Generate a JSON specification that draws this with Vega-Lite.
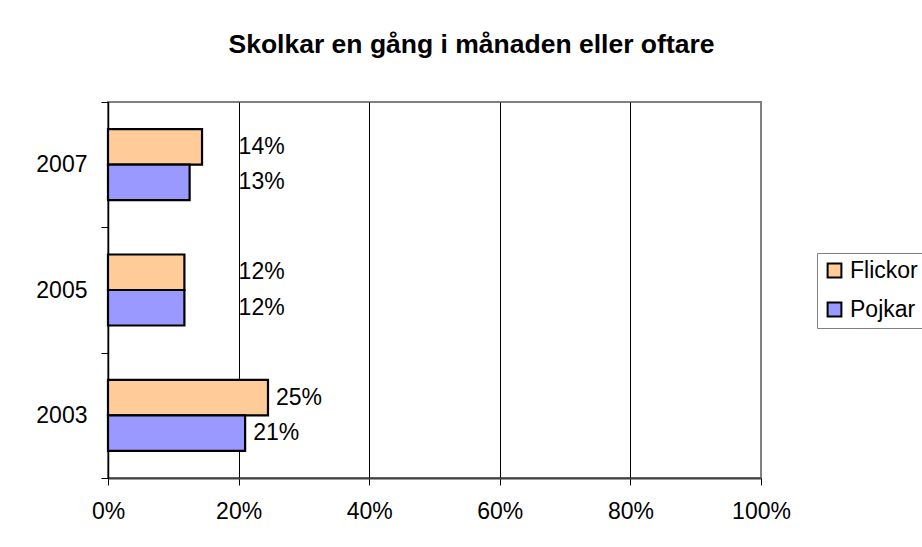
{
  "$schema": "https://vega.github.io/schema/vega-lite/v6.json",
  "width": 653,
  "height": 376,
  "autosize": {"type": "none"},
  "padding": {"left": 108, "top": 102, "right": 161, "bottom": 69},
  "background": "white",
  "title": {
    "text": "Skolkar en gång i månaden eller oftare",
    "font": "Liberation Sans",
    "fontSize": 26.5,
    "fontWeight": "bold",
    "color": "black",
    "anchor": "middle",
    "frame": "group",
    "dx": 37,
    "offset": 12,
    "baseline": "alphabetic"
  },
  "data": {
    "values": [
      {"year": "2007", "gender": "Flickor", "value": 0.144},
      {"year": "2007", "gender": "Pojkar", "value": 0.125},
      {"year": "2005", "gender": "Flickor", "value": 0.117},
      {"year": "2005", "gender": "Pojkar", "value": 0.117},
      {"year": "2003", "gender": "Flickor", "value": 0.245},
      {"year": "2003", "gender": "Pojkar", "value": 0.21}
    ]
  },
  "encoding": {
    "y": {
      "field": "year",
      "type": "nominal",
      "sort": ["2007", "2005", "2003"],
      "scale": {"paddingInner": 0, "paddingOuter": 0},
      "axis": {
        "title": null,
        "tickBand": "extent",
        "tickSize": 7,
        "tickColor": "black",
        "tickWidth": 1,
        "domainColor": "black",
        "domainWidth": 1.5,
        "labelFont": "Liberation Sans",
        "labelFontSize": 23,
        "labelColor": "black",
        "labelPadding": 14,
        "grid": false
      }
    },
    "yOffset": {
      "field": "gender",
      "type": "nominal",
      "sort": ["Flickor", "Pojkar"],
      "scale": {"paddingInner": 0, "paddingOuter": 0.765}
    },
    "x": {
      "field": "value",
      "type": "quantitative",
      "scale": {"domain": [0, 1], "nice": false, "zero": true},
      "axis": {
        "title": null,
        "values": [0, 0.2, 0.4, 0.6, 0.8, 1],
        "format": ".0%",
        "labelFont": "Liberation Sans",
        "labelFontSize": 23,
        "labelColor": "black",
        "labelPadding": 15,
        "tickSize": 7,
        "tickColor": "black",
        "domainColor": "#404040",
        "domainWidth": 2,
        "grid": true,
        "gridColor": {"condition": {"test": "datum.value >= 1", "value": "#808080"}, "value": "black"},
        "gridWidth": 1,
        "labelFlush": false
      }
    }
  },
  "layer": [
    {
      "mark": {"type": "bar", "stroke": "black", "strokeWidth": 2.2},
      "encoding": {
        "color": {
          "field": "gender",
          "type": "nominal",
          "scale": {"domain": ["Flickor", "Pojkar"], "range": ["#FFCC99", "#9999FF"]},
          "legend": {
            "title": null,
            "orient": "none",
            "legendX": 709,
            "legendY": 151,
            "strokeColor": "#808080",
            "fillColor": "white",
            "padding": 6,
            "symbolType": "square",
            "symbolSize": 190,
            "symbolStrokeColor": "black",
            "symbolStrokeWidth": 2,
            "symbolOpacity": 1,
            "labelFont": "Liberation Sans",
            "labelFontSize": 23,
            "labelColor": "black",
            "labelOffset": 4,
            "rowPadding": 15
          }
        }
      }
    },
    {
      "mark": {
        "type": "text",
        "align": "left",
        "baseline": "middle",
        "font": "Liberation Sans",
        "fontSize": 23,
        "color": "black",
        "dx": {"expr": "max(8, scale('x', 0.2) - scale('x', datum.value))"}
      },
      "encoding": {
        "text": {"field": "value", "type": "quantitative", "format": ".0%"}
      }
    }
  ],
  "config": {
    "view": {"stroke": "#808080", "strokeWidth": 2}
  }
}
